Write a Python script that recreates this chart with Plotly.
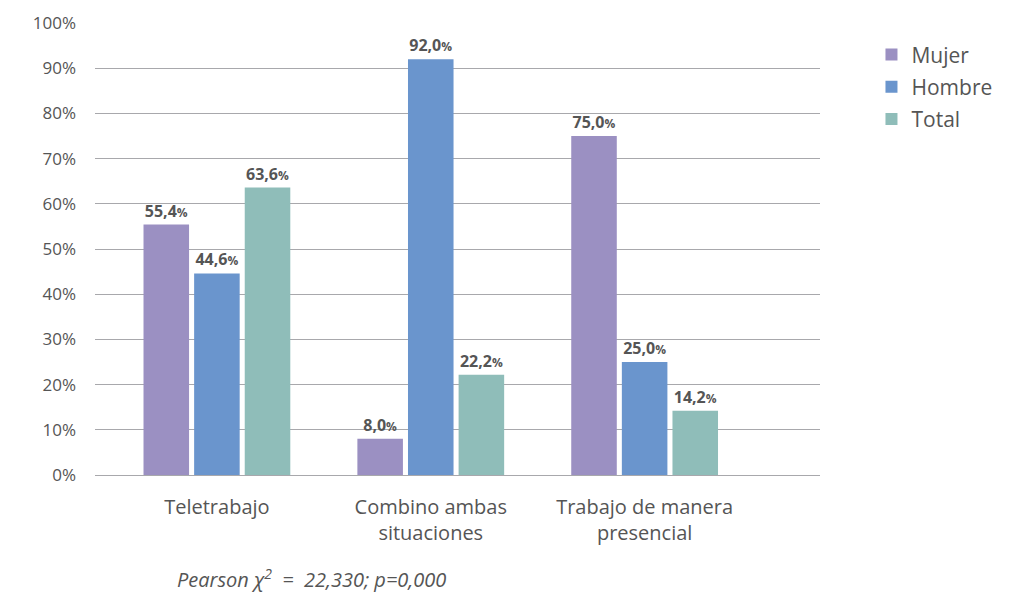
import plotly.graph_objects as go

categories = ["Teletrabajo", "Combino ambas<br>situaciones", "Trabajo de manera<br>presencial"]
mujer = [55.4, 8.0, 75.0]
hombre = [44.6, 92.0, 25.0]
total = [63.6, 22.2, 14.2]
series = [("Mujer", mujer, "#9b90c2"), ("Hombre", hombre, "#6a95cd"), ("Total", total, "#8fbdb9")]
yticks = list(range(0, 101, 10))

def lbl(v):
    return "<b>" + f"{v:.1f}".replace(".", ",") + "<span style='font-size:12px'>%</span></b>"

fig = go.Figure()
for name, vals, col in series:
    fig.add_trace(go.Bar(
        name=name, x=categories, y=vals, marker=dict(color=col, line=dict(width=0)),
        text=[lbl(v) for v in vals], textposition="outside",
        textfont=dict(size=16, color="#555555", family="Open Sans"),
        cliponaxis=False, legendgroup=name,
    ))

fig.update_layout(
    width=1026, height=592,
    margin=dict(l=95, r=206, t=23, b=117),
    paper_bgcolor="white", plot_bgcolor="white",
    barmode="group", bargap=0.29, bargroupgap=0.1,
    font=dict(family="Open Sans", color="#555555"),
    legend=dict(x=1.071, y=0.975, xanchor="left", yanchor="top", traceorder="grouped",
                font=dict(size=21, color="#555555"), tracegroupgap=2, itemwidth=30),
    xaxis=dict(range=[-0.57, 2.82], showgrid=False, showline=False, ticks="",
               tickfont=dict(size=20, color="#555555"), ticklabelstandoff=18),
    yaxis=dict(range=[0, 100], tickvals=yticks, ticktext=[f"{t}%" for t in yticks],
               showgrid=True, gridcolor="#a8a8ac", gridwidth=1, zeroline=True,
               zerolinecolor="#a8a8ac", zerolinewidth=1, showline=False,
               tickfont=dict(size=17, color="#555555"), ticklabelstandoff=18),
    annotations=[dict(text="<i>Pearson χ<sup>2</sup>  =  22,330; p=0,000</i>",
                      xref="paper", yref="paper", x=(175-95)/725, y=-(578-475)/452,
                      xanchor="left", yanchor="middle", showarrow=False,
                      font=dict(size=20, color="#555555"))],
)
fig.write_html("out.html")
